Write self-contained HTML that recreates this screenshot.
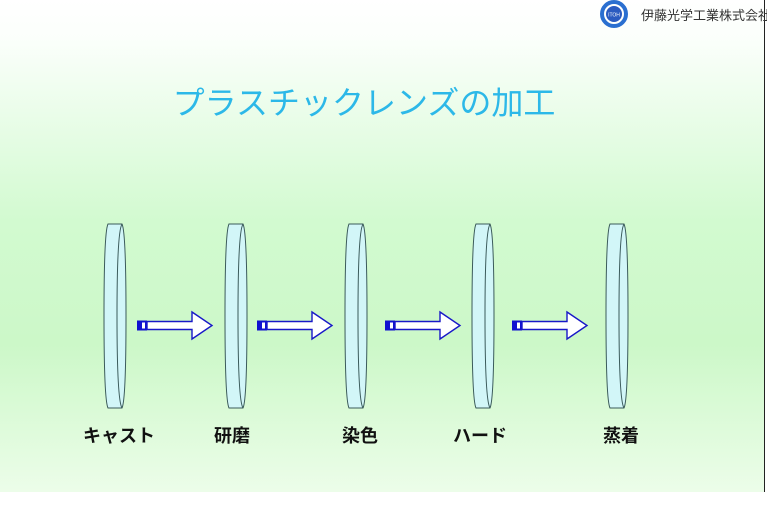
<!DOCTYPE html>
<html><head><meta charset="utf-8"><style>
html,body{margin:0;padding:0;width:767px;height:511px;overflow:hidden;background:#fff}
svg text{font-family:"Liberation Sans","Noto Sans CJK JP",sans-serif}
</style></head><body>
<svg width="767" height="511" viewBox="0 0 767 511" xmlns="http://www.w3.org/2000/svg">
<defs>
<linearGradient id="bg" x1="0" y1="0" x2="0" y2="1">
<stop offset="0" stop-color="#ffffff"/>
<stop offset="0.08" stop-color="#fbfffb"/>
<stop offset="0.45" stop-color="#d2fad0"/>
<stop offset="0.7" stop-color="#ccf8c8"/>
<stop offset="1" stop-color="#ecfde9"/>
</linearGradient>
<g id="lens">
<path d="M3,224 L17,224 Q21,232 21,316 Q21,400 17,408 L3,408 Q-1,400 -1,316 Q-1,232 3,224 Z" fill="#d2f6f8" stroke="#3a5a5a" stroke-width="1"/>
<path d="M17,224 Q12,232 12,316 Q12,400 17,408" fill="none" stroke="#3a5a5a" stroke-width="1"/>
</g>
<g id="arr">
<rect x="0" y="320.5" width="10" height="10" fill="#1010d0"/>
<rect x="5" y="322.5" width="3" height="6" fill="#fff"/>
<path d="M10,321.5 L55,321.5 L55,312 L75,325.5 L55,339 L55,329.5 L10,329.5 Z" fill="#fff" stroke="#1818c8" stroke-width="1.4"/>
</g>
</defs>
<rect x="0" y="0" width="764" height="492" fill="url(#bg)"/>
<line x1="764.5" y1="0" x2="764.5" y2="492" stroke="#222" stroke-width="1"/>
<circle cx="614" cy="14" r="12" fill="none" stroke="#2a6fd0" stroke-width="4"/>
<circle cx="614" cy="14" r="8" fill="#2a5bc0"/>
<text x="614" y="16.5" font-size="5" fill="#fff" text-anchor="middle">ITOH</text>
<text x="641" y="20" font-size="13" fill="#333">伊藤光学工業株式会社</text>
<text x="364" y="114" font-size="32" fill="#2cb8e8" text-anchor="middle">プラスチックレンズの加工</text>
<use href="#lens" x="105"/>
<use href="#lens" x="226"/>
<use href="#lens" x="346"/>
<use href="#lens" x="473"/>
<use href="#lens" x="607"/>
<use href="#arr" x="137"/>
<use href="#arr" x="257"/>
<use href="#arr" x="385"/>
<use href="#arr" x="512"/>
<g font-size="18" font-weight="bold" fill="#111" text-anchor="middle">
<text x="119" y="442">キャスト</text>
<text x="232" y="442">研磨</text>
<text x="360" y="442">染色</text>
<text x="480" y="442">ハード</text>
<text x="621" y="442">蒸着</text>
</g>
</svg>
</body></html>
